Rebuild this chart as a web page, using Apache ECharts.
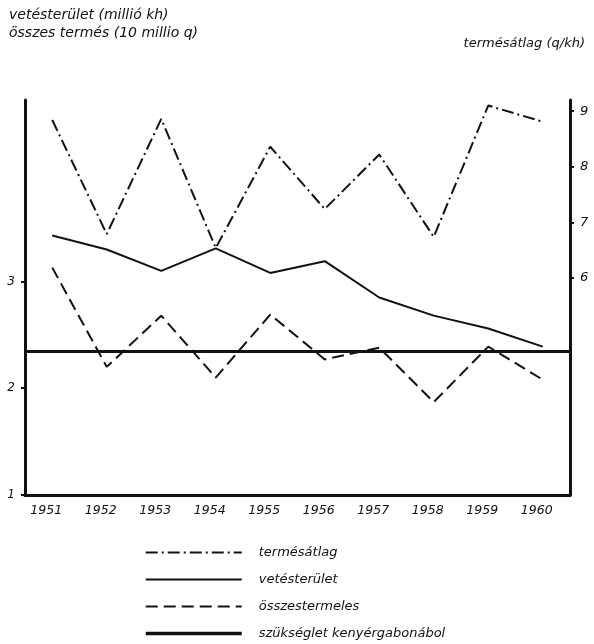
<!DOCTYPE html>
<html>
<head>
<meta charset="utf-8">
<script src="https://cdn.jsdelivr.net/npm/echarts@6/dist/echarts.min.js"></script>
<style>
  html, body { margin: 0; padding: 0; background: #fff; }
  #chart_container { width: 594px; height: 644px; }
</style>
</head>
<body>
<div id="chart_container"></div>
<script>
// evek es ertekek, a kepről leolvasva
var years = ['1951', '1952', '1953', '1954', '1955', '1956', '1957', '1958', '1959', '1960'];
var termesatlag = [8.84, 6.79, 8.86, 6.54, 8.36, 7.24, 8.22, 6.74, 9.10, 8.81];   // q/kh, jobb tengely
var vetesterulet = [3.43, 3.30, 3.10, 3.31, 3.08, 3.19, 2.85, 2.68, 2.56, 2.39];  // millió kh
var osszestermeles = [3.13, 2.20, 2.68, 2.10, 2.69, 2.27, 2.38, 1.87, 2.39, 2.08]; // 10 millió q
var szukseglet = 2.35;
var leftTicks = [1, 2, 3];
var rightTicks = [6, 7, 8, 9];

var dom = document.getElementById("chart_container");
var myChart = echarts.init(dom);
var font = 'DejaVu Sans';
var ink = '#111';

var option = {
    animation: false,
    textStyle: { fontFamily: font, fontStyle: 'italic', color: ink },
    title: [
        {
            text: 'vetésterület (millió kh)\nösszes termés (10 millio q)',
            left: 4, top: 1,
            textStyle: { fontFamily: font, fontStyle: 'italic', fontWeight: 'normal', fontSize: 14, color: ink, lineHeight: 18 }
        },
        {
            text: 'termésátlag (q/kh)',
            right: 4, top: 32,
            textStyle: { fontFamily: font, fontStyle: 'italic', fontWeight: 'normal', fontSize: 13, color: ink }
        }
    ],
    legend: {
        orient: 'vertical',
        left: 144, top: 546,
        padding: 0,
        itemWidth: 96, itemHeight: 13,
        itemGap: 14,
        itemStyle: { opacity: 0 },
        textStyle: { fontFamily: font, fontStyle: 'italic', fontSize: 13, color: ink, padding: [0, 0, 0, 12] },
        data: [
            'termésátlag',
            'vetésterület',
            'összestermeles',
            { name: 'szükséglet kenyérgabonábol', lineStyle: { width: 3.5 } }
        ]
    },
    grid: { left: 25, right: 24, top: 100, bottom: 149 },
    xAxis: {
        type: 'category',
        data: years,
        boundaryGap: true,
        axisLine: { lineStyle: { color: ink, width: 3 } },
        axisTick: { alignWithLabel: true, length: 5, lineStyle: { color: ink, width: 2 } },
        axisLabel: { color: ink, fontSize: 12.5, fontStyle: 'italic', fontFamily: font, margin: 9, padding: [0, 12, 0, 0] },
        splitLine: { show: false }
    },
    yAxis: [
        {
            type: 'value',
            min: 1, max: 4.7,
            position: 'left',
            axisLine: { show: true, lineStyle: { color: ink, width: 3 } },
            axisTick: { show: true, length: 4, customValues: leftTicks, lineStyle: { color: ink, width: 2 } },
            axisLabel: { customValues: leftTicks, color: ink, fontSize: 12, fontStyle: 'italic', fontFamily: font, margin: 10 },
            splitLine: { show: false }
        },
        {
            type: 'value',
            min: 2.1, max: 9.2,
            position: 'right',
            axisLine: { show: true, lineStyle: { color: ink, width: 3 } },
            axisTick: { show: true, length: 4, customValues: rightTicks, lineStyle: { color: ink, width: 2 } },
            axisLabel: { customValues: rightTicks, color: ink, fontSize: 13, fontStyle: 'italic', fontFamily: font, margin: 10 },
            splitLine: { show: false }
        }
    ],
    series: [
        {
            name: 'termésátlag',
            type: 'line',
            yAxisIndex: 1,
            symbol: 'none',
            data: termesatlag,
            lineStyle: { color: ink, width: 2, type: [12, 4, 2, 4] },
            itemStyle: { color: ink }
        },
        {
            name: 'vetésterület',
            type: 'line',
            symbol: 'none',
            data: vetesterulet,
            lineStyle: { color: ink, width: 2, type: 'solid' },
            itemStyle: { color: ink }
        },
        {
            name: 'összestermeles',
            type: 'line',
            symbol: 'none',
            data: osszestermeles,
            lineStyle: { color: ink, width: 2, type: [12, 6] },
            itemStyle: { color: ink }
        },
        {
            name: 'szükséglet kenyérgabonábol',
            type: 'line',
            symbol: 'none',
            data: [],
            lineStyle: { color: ink, width: 3.5, type: 'solid' },
            itemStyle: { color: ink },
            markLine: {
                silent: true,
                symbol: 'none',
                label: { show: false },
                lineStyle: { color: ink, width: 3, type: 'solid' },
                data: [{ yAxis: szukseglet }]
            }
        }
    ]
};

myChart.setOption(option, true);
</script>
</body>
</html>
